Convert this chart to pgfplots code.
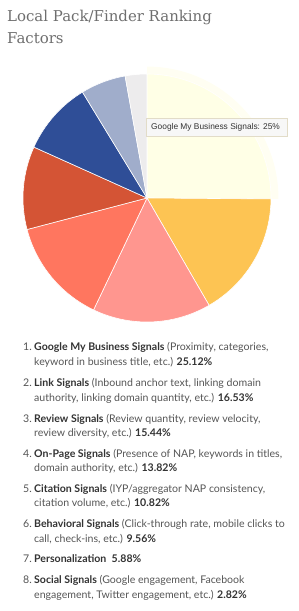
\documentclass[border=0pt]{standalone}
\usepackage{pgfplots}
\pgfplotsset{compat=1.18}
\usepackage{fontspec}
\setmainfont{Lato}
\newfontfamily\titlefont{DejaVu Serif}
\newfontfamily\tipfont{Liberation Sans}
\definecolor{gmb}{HTML}{FFFFE6}
\definecolor{gmbhalo}{HTML}{FFFEF2}
\definecolor{link}{HTML}{FDC453}
\definecolor{review}{HTML}{FF968F}
\definecolor{onpage}{HTML}{FF765F}
\definecolor{citation}{HTML}{D45435}
\definecolor{behav}{HTML}{2F4E97}
\definecolor{person}{HTML}{A0ADCB}
\definecolor{social}{HTML}{EDECED}
\definecolor{titlegray}{HTML}{6E6E6E}
\definecolor{txt}{HTML}{555555}
\definecolor{txtb}{HTML}{333333}
\definecolor{tipbg}{HTML}{F7F7F7}
\definecolor{tipborder}{HTML}{E2DCC8}
\newcommand{\B}[1]{{\bfseries\color{txtb}#1}}
\begin{document}
\begin{tikzpicture}
\path[use as bounding box] (0bp,0bp) rectangle (299bp,611bp);
\node[anchor=base west, inner sep=0, text=titlegray, font=\titlefont\fontsize{15}{22}\selectfont] at (7bp,589bp) {Local Pack/Finder Ranking};
\node[anchor=base west, inner sep=0, text=titlegray, font=\titlefont\fontsize{15}{22}\selectfont] at (7bp,567bp) {Factors};
\begin{axis}[hide axis, scale only axis, width=248bp, height=248bp,
  xmin=-1, xmax=1, ymin=-1, ymax=1, at={(147bp,413bp)}, anchor=center, clip=false]
% halo of the highlighted slice
\addplot[fill=gmbhalo, draw=none, domain=-0.43:90, samples=60, variable=\t] ({1.06*cos(\t)},{1.06*sin(\t)}) -- (axis cs:0,0) -- cycle;
\gdef\cum{0}
\foreach \v/\c in {25.12/gmb, 16.53/link, 15.44/review, 13.82/onpage, 10.82/citation, 9.56/behav, 5.88/person, 2.82/social}{
  \pgfmathsetmacro\a{90-3.6*\cum}
  \pgfmathsetmacro\b{90-3.6*(\cum+\v)}
  \pgfmathsetmacro\newcum{\cum+\v}
  \xdef\cum{\newcum}
  \edef\temp{\noexpand\addplot[fill=\c, draw=white, line width=0.6pt, domain=\b:\a, samples=60, variable=\noexpand\t] ({cos(\noexpand\t)},{sin(\noexpand\t)}) -- (axis cs:0,0) -- cycle;}
  \temp
}
\end{axis}
% tooltip
\fill[black!8] (147bp,474bp) rectangle (288bp,492bp);
\filldraw[fill=tipbg, draw=tipborder, line width=0.6pt] (146bp,475bp) rectangle (287bp,493bp);
\node[anchor=base west, inner sep=0, text=txtb, font=\tipfont\fontsize{8.4}{10}\selectfont] at (151bp,481bp) {Google My Business Signals: 25\%};
% list
\begin{scope}[every node/.style={anchor=base west, inner sep=0, text=txt, font=\fontsize{10.6}{12}\selectfont}]
\node at (23bp,260bp) {1.};
\node at (34bp,260bp) {\B{Google My Business Signals} (Proximity, categories,};
\node at (34bp,245bp) {keyword in business title, etc.) \B{25.12\%}};
\node at (23bp,224bp) {2.};
\node at (34bp,224bp) {\B{Link Signals} (Inbound anchor text, linking domain};
\node at (34bp,209bp) {authority, linking domain quantity, etc.) \B{16.53\%}};
\node at (23bp,188bp) {3.};
\node at (34bp,188bp) {\B{Review Signals} (Review quantity, review velocity,};
\node at (34bp,174bp) {review diversity, etc.) \B{15.44\%}};
\node at (23bp,153bp) {4.};
\node at (34bp,153bp) {\B{On-Page Signals} (Presence of NAP, keywords in titles,};
\node at (34bp,139bp) {domain authority, etc.) \B{13.82\%}};
\node at (23bp,118bp) {5.};
\node at (34bp,118bp) {\B{Citation Signals} (IYP/aggregator NAP consistency,};
\node at (34bp,104bp) {citation volume, etc.) \B{10.82\%}};
\node at (23bp,83bp) {6.};
\node at (34bp,83bp) {\B{Behavioral Signals} (Click-through rate, mobile clicks to};
\node at (34bp,68bp) {call, check-ins, etc.) \B{9.56\%}};
\node at (23bp,48bp) {7.};
\node at (34bp,48bp) {\B{Personalization}\ \ \B{5.88\%}};
\node at (23bp,28bp) {8.};
\node at (34bp,28bp) {\B{Social Signals} (Google engagement, Facebook};
\node at (34bp,13bp) {engagement, Twitter engagement, etc.) \B{2.82\%}};
\end{scope}
\end{tikzpicture}
\end{document}
